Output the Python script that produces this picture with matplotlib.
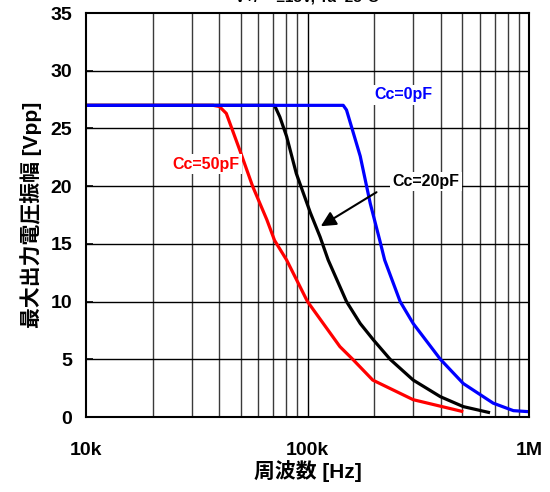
import matplotlib
matplotlib.use("Agg")
import matplotlib.pyplot as plt
from matplotlib.ticker import FixedLocator, NullFormatter

plt.rcParams['font.family'] = ['Liberation Sans', 'Noto Sans CJK JP', 'DejaVu Sans']

# Data (frequency in Hz, amplitude in Vpp)
f_0pF = [10e3, 145e3, 150e3, 173e3, 192e3, 212e3, 223e3, 262e3, 300e3, 398e3, 505e3, 689e3, 850e3, 1e6]
v_0pF = [27.0, 27.0, 26.6, 22.6, 18.5, 15.3, 13.6, 10.0, 8.1, 5.0, 2.9, 1.2, 0.55, 0.46]

f_20pF = [10e3, 71e3, 75e3, 80.5e3, 89e3, 103e3, 114e3, 124e3, 150e3, 173e3, 198e3, 236e3, 300e3, 398e3, 505e3, 667e3]
v_20pF = [27.0, 27.0, 26.0, 24.3, 21.1, 17.7, 15.6, 13.6, 10.0, 8.1, 6.7, 5.0, 3.2, 1.76, 0.9, 0.37]

f_50pF = [10e3, 37.5e3, 40e3, 43e3, 49.5e3, 56.5e3, 65.5e3, 71e3, 80.5e3, 100e3, 140e3, 160e3, 197e3, 300e3, 505e3]
v_50pF = [27.0, 27.0, 26.9, 26.3, 23.1, 20.0, 17.1, 15.3, 13.6, 10.0, 6.1, 5.0, 3.2, 1.5, 0.46]

x_ticks = [1e4, 1e5, 1e6]
x_ticklabels = ['10k', '100k', '1M']
y_ticks = [0, 5, 10, 15, 20, 25, 30, 35]

fig = plt.figure(figsize=(5.5, 4.92), dpi=100)
ax = fig.add_axes([86/550, 1-417/492, (529-86)/550, (417-13)/492])

ax.set_xscale('log')
ax.set_xlim(1e4, 1e6)
ax.set_ylim(0, 35)

# grid
minor = [m * d for d in (1e4, 1e5) for m in range(2, 10)]
for xv in minor:
    ax.axvline(xv, color='#3a3a3a', lw=1.0, zorder=1)
ax.axvline(1e5, color='black', lw=1.0, zorder=1)
for yv in y_ticks[1:-1]:
    ax.axhline(yv, color='black', lw=1.0, zorder=1)

ax.plot(f_50pF, v_50pF, color='#ff0000', lw=2.3, zorder=3, solid_capstyle='butt')
ax.plot(f_20pF, v_20pF, color='black', lw=2.3, zorder=3, solid_capstyle='butt')
ax.plot(f_0pF, v_0pF, color='#0000ff', lw=2.3, zorder=4, solid_capstyle='butt')

ax.xaxis.set_major_locator(FixedLocator(x_ticks))
ax.set_xticklabels(x_ticklabels)
ax.xaxis.set_minor_locator(FixedLocator(minor))
ax.xaxis.set_minor_formatter(NullFormatter())
ax.set_yticks(y_ticks)
ax.tick_params(axis='both', which='both', direction='in', labelsize=14, length=0)
ax.tick_params(axis='y', length=5, width=1.2, pad=10)
ax.tick_params(axis='x', pad=18)
for lab in ax.get_xticklabels() + ax.get_yticklabels():
    lab.set_fontweight('bold')

for s in ax.spines.values():
    s.set_linewidth(1.5)
    s.set_zorder(5)

bbox = dict(boxstyle='square,pad=0.15', fc='white', ec='none')
ax.text(2.70e5, 27.9, 'Cc=0pF', color='#0000ff', fontsize=11.5, fontweight='bold',
        ha='center', va='center', bbox=bbox, zorder=6)
ax.text(3.48e4, 21.9, 'Cc=50pF', color='#ff0000', fontsize=11.5, fontweight='bold',
        ha='center', va='center', bbox=bbox, zorder=6)
ax.text(3.42e5, 20.4, 'Cc=20pF', color='black', fontsize=11.5, fontweight='bold',
        ha='center', va='center', bbox=bbox, zorder=6)
ax.annotate('', xy=(1.12e5, 16.4), xytext=(2.10e5, 19.6),
            arrowprops=dict(arrowstyle='-|>,head_length=0.9,head_width=0.45', color='black', lw=1.5),
            zorder=6)

ax.set_xlabel('周波数 [Hz]', fontsize=15, fontweight='bold', labelpad=1)
ax.set_ylabel('最大出力電圧振幅 [Vpp]', fontsize=15, fontweight='bold', labelpad=6)

fig.text(307/550, 1 + 2.5/492, 'V+/- =±15V, Ta=25°C', fontsize=11, fontweight='bold',
         ha='center', va='center')

fig.savefig('out.png', dpi=100)
